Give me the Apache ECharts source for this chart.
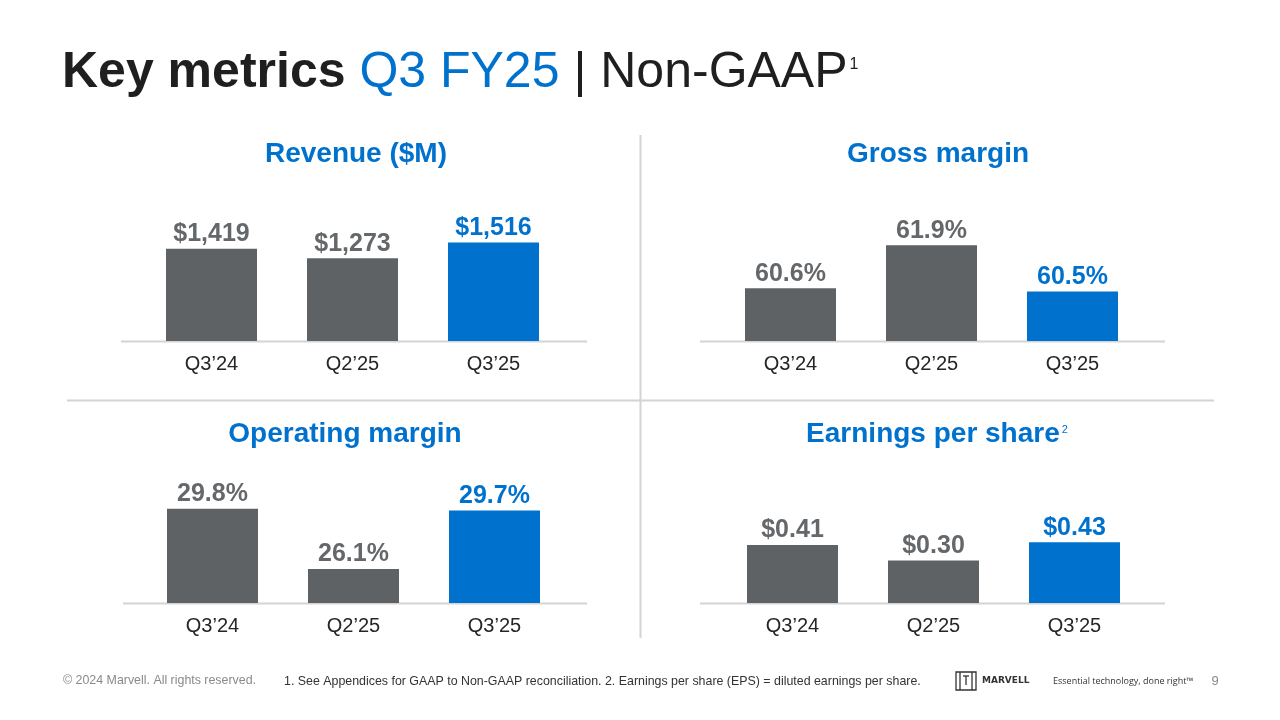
<!DOCTYPE html>
<html><head><meta charset="utf-8">
<script src="https://cdn.jsdelivr.net/npm/echarts@6/dist/echarts.min.js"></script>
<style>html,body{margin:0;padding:0;background:#fff}#c{width:1280px;height:720px}</style>
</head><body><div id="c"></div>
<script>
const categories = ["Q3\u201924", "Q2\u201925", "Q3\u201925"];
const revenue = [1419, 1273, 1516];
const grossMargin = [60.6, 61.9, 60.5];
const opMargin = [29.8, 26.1, 29.7];
const eps = [0.41, 0.30, 0.43];
const revenueLabels = ["$1,419", "$1,273", "$1,516"];
const grossLabels = ["60.6%", "61.9%", "60.5%"];
const opLabels = ["29.8%", "26.1%", "29.7%"];
const epsLabels = ["$0.41", "$0.30", "$0.43"];

const GRAY = '#5f6265', BLUE = '#0072ce', LBL_GRAY = '#65686b';
const FONT = '"Liberation Sans", Arial, sans-serif';

function barData(vals, labels) {
  return vals.map((v, i) => ({
    value: v,
    itemStyle: { color: i === vals.length - 1 ? BLUE : GRAY },
    label: { formatter: labels[i], color: i === vals.length - 1 ? BLUE : LBL_GRAY }
  }));
}

const grids = [
  { left: 141, width: 423, top: 211, height: 130 },
  { left: 720, width: 423, top: 209, height: 132 },
  { left: 142, width: 423, top: 473, height: 130 },
  { left: 722, width: 423, top: 461.5, height: 141.5 }
];
const yRanges = [[0, 2000], [59, 63], [24, 32], [0, 1]];
const datasets = [
  barData(revenue, revenueLabels),
  barData(grossMargin, grossLabels),
  barData(opMargin, opLabels),
  barData(eps, epsLabels)
];

const chart = echarts.init(document.getElementById('c'), null, { renderer: 'canvas' });

const line = (x1, y1, x2, y2, w, c) => ({
  type: 'line', shape: { x1, y1, x2, y2 }, style: { stroke: c || '#d4d4d4', lineWidth: w || 2 }, silent: true
});
const txt = (x, y, text, font, fill, align) => ({
  type: 'text', x, y, style: { text, font, fill, align: align || 'left', verticalAlign: 'middle' }, silent: true
});

chart.setOption({
  animation: false,
  textStyle: { fontFamily: FONT },
  grid: grids,
  xAxis: grids.map((g, i) => ({
    type: 'category', gridIndex: i, data: categories,
    axisLine: { show: false }, axisTick: { show: false },
    axisLabel: { fontSize: 20, color: '#262626', margin: 13, fontFamily: FONT }
  })),
  yAxis: grids.map((g, i) => ({
    type: 'value', gridIndex: i, min: yRanges[i][0], max: yRanges[i][1], show: false
  })),
  series: datasets.map((d, i) => ({
    type: 'bar', xAxisIndex: i, yAxisIndex: i, barWidth: 91, data: d,
    label: { show: true, position: 'top', distance: 2, fontSize: 25, fontWeight: 'bold', fontFamily: FONT }
  })),
  graphic: [
    // axis baselines
    line(121, 341.5, 587, 341.5), line(700, 341.5, 1165, 341.5),
    line(123, 603.5, 587, 603.5), line(700, 603.5, 1165, 603.5),
    // dividers
    line(640.5, 135, 640.5, 638), line(67, 400.5, 1214, 400.5),
    // main title
    {
      type: 'text', x: 62, y: 73, silent: true,
      style: {
        text: '{a|Key metrics }{b|Q3 FY25}{c| | Non-GAAP}{s|1}',
        verticalAlign: 'middle',
        rich: {
          a: { font: 'bold 50px ' + FONT, fill: '#1f1f1f' },
          b: { font: '50px ' + FONT, fill: BLUE },
          c: { font: '50px ' + FONT, fill: '#1f1f1f' },
          s: { font: '16px ' + FONT, fill: '#1f1f1f', verticalAlign: 'top', padding: [9, 0, 0, 2] }
        }
      }
    },
    // panel titles
    txt(356, 154, 'Revenue ($M)', 'bold 28px ' + FONT, BLUE, 'center'),
    txt(938, 154, 'Gross margin', 'bold 28px ' + FONT, BLUE, 'center'),
    txt(345, 434, 'Operating margin', 'bold 28px ' + FONT, BLUE, 'center'),
    {
      type: 'text', x: 937, y: 434, silent: true,
      style: {
        text: '{a|Earnings per share}{s|2}', align: 'center', verticalAlign: 'middle',
        rich: {
          a: { font: 'bold 28px ' + FONT, fill: BLUE },
          s: { font: '11px ' + FONT, fill: BLUE, verticalAlign: 'top', padding: [4, 0, 0, 2] }
        }
      }
    },
    // footer
    txt(63, 681, '\u00a9 2024 Marvell. All rights reserved.', '12.4px ' + FONT, '#8a8a8a'),
    txt(284, 682, '1. See Appendices for GAAP to Non-GAAP reconciliation. 2. Earnings per share (EPS) = diluted earnings per share.', '12.4px ' + FONT, '#333333'),
    { type: 'rect', shape: { x: 956, y: 672, width: 20, height: 18 }, style: { fill: 'none', stroke: '#333', lineWidth: 1.3 }, silent: true },
    line(960, 672, 960, 690, 1.3, '#333'), line(972, 672, 972, 690, 1.3, '#333'),
    line(963, 676, 969, 676, 1.3, '#333'), line(966, 676, 966, 685, 1.3, '#333'),
    txt(982, 681, 'MARVELL', 'bold 9px "DejaVu Sans", sans-serif', '#333333'),
    txt(1053, 681, 'Essential technology, done right\u2122', '9px "Open Sans", sans-serif', '#333333'),
    txt(1215, 681, '9', '13px ' + FONT, '#8a8a8a', 'center')
  ]
});
</script></body></html>
